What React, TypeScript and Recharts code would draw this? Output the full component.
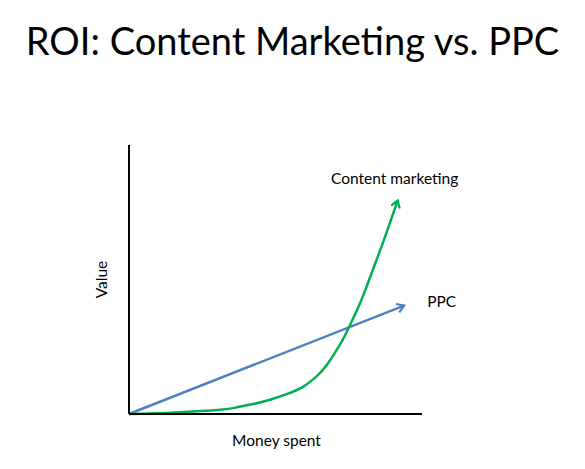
import React from 'react';
import { LineChart, Line, XAxis, YAxis } from 'recharts';

const FONT = 'Lato, "Open Sans", sans-serif';
const GREEN = '#00B050';
const BLUE = '#4F81BD';

// money spent (x) vs value (y), both on a 0–100 scale
const contentSpent = [0, 15.7, 31.1, 36.8, 42.4, 48.1, 53.8, 59.5, 64.1, 67.5, 72.0, 74.3, 78.3, 81.1, 86.8, 91.7];
const contentValue = [0, 0.6, 1.6, 2.5, 3.7, 5.3, 7.4, 10.2, 14.1, 18.2, 25.8, 30.5, 39.8, 47.4, 64.1, 79.4];
const ppcSpent = [0, 93.9];
const ppcValue = [0, 40.3];

const contentData = contentSpent.map((x, i) => ({ x, y: contentValue[i] }));
const ppcData = ppcSpent.map((x, i) => ({ x, y: ppcValue[i] }));

const endLabel = (text: string, count: number, dx: number, dy: number, anchor: 'start' | 'middle') =>
  (props: any) => {
    if (props.index !== count - 1) return null;
    return (
      <text x={props.x + dx} y={props.y + dy} textAnchor={anchor} fontFamily={FONT} fontSize={15.5} fill="#000">
        {text}
      </text>
    );
  };

export default function App() {
  return (
    <div style={{ position: 'absolute', left: 0, top: 0, width: 585, height: 469, background: '#fff' }}>
      <svg width={0} height={0} style={{ position: 'absolute' }}>
        <defs>
          <marker id="arrowGreen" viewBox="0 0 12 12" refX={10} refY={6} markerWidth={12} markerHeight={12}
            markerUnits="userSpaceOnUse" orient="auto">
            <path d="M3,1.5 L10,6 L3,10.5" fill="none" stroke={GREEN} strokeWidth={2.2} />
          </marker>
          <marker id="arrowBlue" viewBox="0 0 12 12" refX={10} refY={6} markerWidth={12} markerHeight={12}
            markerUnits="userSpaceOnUse" orient="auto">
            <path d="M3,1.5 L10,6 L3,10.5" fill="none" stroke={BLUE} strokeWidth={2.2} />
          </marker>
        </defs>
      </svg>
      <div style={{
        position: 'absolute', left: 0, top: 16, width: 585, textAlign: 'center',
        fontFamily: FONT, fontSize: 38, lineHeight: '48px', color: '#000',
      }}>
        ROI: Content Marketing vs. PPC
      </div>
      <LineChart width={585} height={469} margin={{ top: 145, right: 163, bottom: 25, left: 99 }}>
        <XAxis
          type="number" dataKey="x" domain={[0, 100]} height={30}
          tick={false} tickLine={false} axisLine={{ stroke: '#000', strokeWidth: 2 }}
          label={{
            content: ({ viewBox }: any) => (
              <text x={viewBox.x + viewBox.width / 2 + 1} y={viewBox.y + 32} textAnchor="middle"
                fontFamily={FONT} fontSize={15.5} fill="#000">Money spent</text>
            ),
          }}
        />
        <YAxis
          type="number" dataKey="y" domain={[0, 100]} width={30}
          tick={false} tickLine={false} axisLine={{ stroke: '#000', strokeWidth: 2 }}
          label={{
            content: ({ viewBox }: any) => {
              const cx = viewBox.x + 1.5;
              const cy = viewBox.y + viewBox.height / 2;
              return (
                <text x={cx} y={cy} textAnchor="middle" dominantBaseline="central"
                  transform={`rotate(-90 ${cx} ${cy})`} fontFamily={FONT} fontSize={15.5} fill="#000">Value</text>
              );
            },
          }}
        />
        <Line
          data={ppcData} dataKey="y" type="linear" stroke={BLUE} strokeWidth={2.5}
          dot={false} activeDot={false} isAnimationActive={false} markerEnd="url(#arrowBlue)"
          label={endLabel('PPC', ppcData.length, 23, 1, 'start')}
        />
        <Line
          data={contentData} dataKey="y" type="natural" stroke={GREEN} strokeWidth={2.5}
          dot={false} activeDot={false} isAnimationActive={false} markerEnd="url(#arrowGreen)"
          label={endLabel('Content marketing', contentData.length, -3, -16, 'middle')}
        />
      </LineChart>
    </div>
  );
}
